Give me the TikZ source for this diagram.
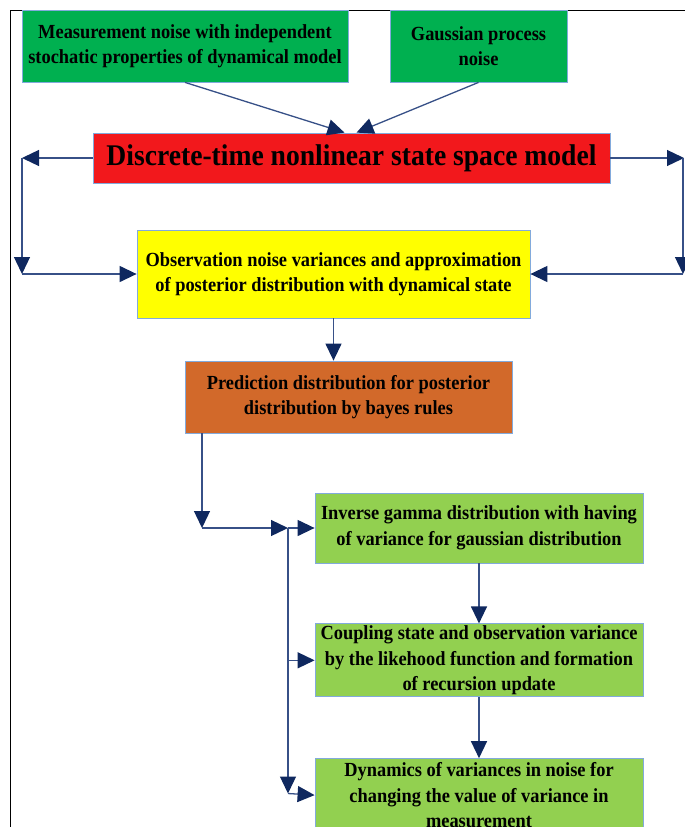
\documentclass[tikz,border=0pt]{standalone}
\usepackage{fontspec}
\setmainfont{Liberation Serif}[FakeStretch=0.92]
\usetikzlibrary{positioning,arrows.meta}
\definecolor{boxline}{RGB}{130,170,220}
\definecolor{noisegreen}{RGB}{0,176,80}
\definecolor{modelred}{RGB}{242,24,28}
\definecolor{obsyellow}{RGB}{255,255,0}
\definecolor{predorange}{RGB}{210,105,42}
\definecolor{stepgreen}{RGB}{146,208,80}
\definecolor{linkblue}{RGB}{55,80,135}
\definecolor{tipblue}{RGB}{15,40,95}
\tikzset{main node/.style={rectangle,draw=boxline,line width=0.8pt,inner sep=1pt,align=center,
            font=\fontsize{20}{25.5}\selectfont\bfseries},
         link/.style={draw=linkblue,line width=1.3pt,-{Triangle[length=17pt,width=16pt,color=tipblue]}},
            }
\begin{document}
\begin{tikzpicture}[x=1pt,y=-1pt]
    \useasboundingbox (0,0) rectangle (685,827);
    \draw[black,line width=0.8pt] (10,830) -- (10,10) -- (690,10);

    \node[main node,fill=noisegreen,minimum width=326pt,minimum height=72pt] (meas) at (185,46)
        {Measurement noise with independent\\stochatic properties of dynamical model};
    \node[main node,fill=noisegreen,minimum width=177pt,minimum height=72pt] (gauss) at (478.5,46)
        {Gaussian process\\noise};
    \node[main node,fill=modelred,minimum width=517pt,minimum height=50pt,
          font=\fontsize{30}{34}\selectfont\bfseries] (model) at (351.5,158)
        {Discrete-time nonlinear state space model};
    \node[main node,fill=obsyellow,minimum width=393pt,minimum height=88pt] (obs) at (333.5,274)
        {Observation noise variances and approximation\\of posterior distribution with dynamical state};
    \node[main node,fill=predorange,minimum width=327pt,minimum height=72pt] (pred) at (348.5,397)
        {Prediction distribution for posterior\\distribution by bayes rules};
    \node[main node,fill=stepgreen,minimum width=328pt,minimum height=70pt] (gamma) at (479,528)
        {Inverse gamma distribution with having\\of variance for gaussian distribution};
    \node[main node,fill=stepgreen,minimum width=328pt,minimum height=73pt] (coupling) [below=60pt of gamma]
        {Coupling state and observation variance\\by the likehood function and formation\\of recursion update};
    \node[main node,fill=stepgreen,minimum width=328pt,minimum height=73pt] (dyn) [below=61pt of coupling]
        {Dynamics of variances in noise for\\changing the value of variance in\\measurement};

    \coordinate (mtl) at ([xshift=-7pt]model.north);
    \coordinate (mtr) at ([xshift=5pt]model.north);
    \coordinate (lt) at (22,158);
    \coordinate (lb) at (22,274);
    \coordinate (rt) at (684,158);
    \coordinate (rb) at (683,274);
    \coordinate (pd) at (202,528);
    \coordinate (bus1) at (288,528);
    \coordinate (bus3) at (288,793.5);

    \draw[link] (meas.south) -- (mtl);
    \draw[link] (gauss.south) -- (mtr);
    \draw[link] (model.west) -- (lt);
    \draw[link] (lt) -- (lb);
    \draw[link] (lb) -- (obs.west);
    \draw[link] (model.east) -- (rt);
    \draw[link] (rt -| rb) -- (rb);
    \draw[link] (rb) -- (obs.east);
    \draw[link] (obs.south) -- (obs.south |- pred.north);
    \draw[link] (pred.south -| pd) -- (pd);
    \draw[link] (pd) -- (bus1);
    \draw[link] (bus1) -- (gamma.west);
    \draw[link] (bus1) -- (bus3);
    \draw[link] (bus1 |- coupling) -- (coupling.west);
    \draw[link] (bus3) -- (dyn.west);
    \draw[link] (gamma.south) -- (coupling.north);
    \draw[link] (coupling.south) -- (dyn.north);
    %%
\end{tikzpicture}
\end{document}
